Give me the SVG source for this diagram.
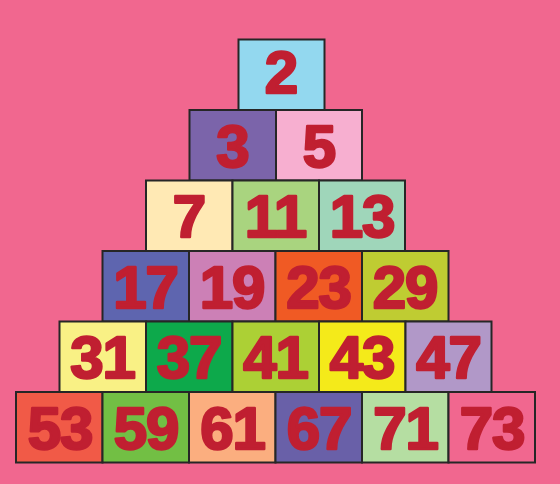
<svg xmlns="http://www.w3.org/2000/svg" width="560" height="484" viewBox="0 0 560 484">
<style>
.b{stroke:#262626;stroke-width:2}
.t{font-family:"Liberation Sans",Arial,sans-serif;font-weight:bold;font-size:60px;fill:#C01F31;stroke:#C01F31;stroke-width:2.5;stroke-linejoin:round;text-anchor:middle;letter-spacing:-1px}
</style>
<rect width="560" height="484" fill="#F1678F"/>
<g id="n2"><rect class="b" x="238.5" y="39.5" width="86" height="70.5" fill="#93D8EF"/><text class="t" x="281" y="93">2</text></g>
<g id="n3"><rect class="b" x="189.5" y="110" width="86.5" height="70.5" fill="#7B64AA"/><text class="t" x="232.5" y="166.5">3</text></g>
<g id="n5"><rect class="b" x="276" y="110" width="86" height="70.5" fill="#F7AFD0"/><text class="t" x="319" y="166.5">5</text></g>
<g id="n7"><rect class="b" x="146" y="180.5" width="86.5" height="70.5" fill="#FFE9B4"/><text class="t" x="189" y="237">7</text></g>
<g id="n11"><rect class="b" x="232.5" y="180.5" width="86.5" height="70.5" fill="#A9D47F"/><text class="t" x="275.5" y="237">11</text></g>
<g id="n13"><rect class="b" x="319" y="180.5" width="86" height="70.5" fill="#9FD6BA"/><text class="t" x="362" y="237">13</text></g>
<g id="n17"><rect class="b" x="102.5" y="251" width="86.5" height="70.5" fill="#5E65AF"/><text class="t" x="145.5" y="307.5">17</text></g>
<g id="n19"><rect class="b" x="189" y="251" width="86.5" height="70.5" fill="#CC80B6"/><text class="t" x="232" y="307.5">19</text></g>
<g id="n23"><rect class="b" x="275.5" y="251" width="86.5" height="70.5" fill="#F05A24"/><text class="t" x="318.5" y="307.5">23</text></g>
<g id="n29"><rect class="b" x="362" y="251" width="86.5" height="70.5" fill="#BFCC32"/><text class="t" x="405" y="307.5">29</text></g>
<g id="n31"><rect class="b" x="59.5" y="321.5" width="86.5" height="70.5" fill="#F9F185"/><text class="t" x="102.5" y="378">31</text></g>
<g id="n37"><rect class="b" x="146" y="321.5" width="86.5" height="70.5" fill="#0DA94B"/><text class="t" x="189" y="378">37</text></g>
<g id="n41"><rect class="b" x="232.5" y="321.5" width="86.5" height="70.5" fill="#ACD035"/><text class="t" x="275.5" y="378">41</text></g>
<g id="n43"><rect class="b" x="319" y="321.5" width="86.5" height="70.5" fill="#F4EA1A"/><text class="t" x="362" y="378">43</text></g>
<g id="n47"><rect class="b" x="405.5" y="321.5" width="86" height="70.5" fill="#B198C8"/><text class="t" x="448.5" y="378">47</text></g>
<g id="n53"><rect class="b" x="16" y="392" width="86.5" height="70.5" fill="#F15A47"/><text class="t" x="60" y="449">53</text></g>
<g id="n59"><rect class="b" x="102.5" y="392" width="86.5" height="70.5" fill="#72BF44"/><text class="t" x="146" y="449">59</text></g>
<g id="n61"><rect class="b" x="189" y="392" width="86.5" height="70.5" fill="#FBAE7F"/><text class="t" x="232.5" y="449">61</text></g>
<g id="n67"><rect class="b" x="275.5" y="392" width="86.5" height="70.5" fill="#6960A8"/><text class="t" x="319" y="449">67</text></g>
<g id="n71"><rect class="b" x="362" y="392" width="86.5" height="70.5" fill="#B5DEA2"/><text class="t" x="405.5" y="449">71</text></g>
<g id="n73"><rect class="b" x="448.5" y="392" width="86.5" height="70.5" fill="#F1678F"/><text class="t" x="492" y="449">73</text></g>
<g id="connectors"/>
</svg>
